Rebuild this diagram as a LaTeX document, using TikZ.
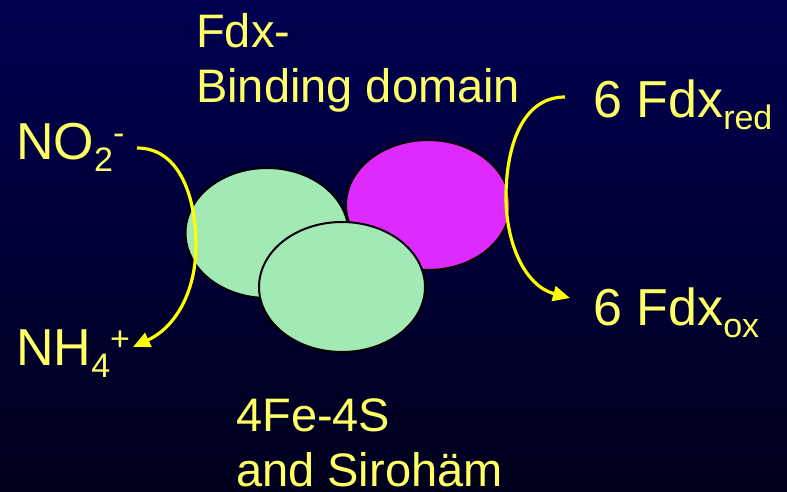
\documentclass[tikz,border=0pt]{standalone}
\usepackage{fontspec}
\setmainfont{Liberation Sans}
\usetikzlibrary{arrows.meta,shapes.geometric}

\definecolor{bgtop}{RGB}{0,0,82}
\definecolor{bgbot}{RGB}{0,0,28}
\definecolor{labelyellow}{RGB}{255,255,102}
\definecolor{flowyellow}{RGB}{255,255,0}
\definecolor{domaingreen}{RGB}{163,233,181}
\definecolor{domainmagenta}{RGB}{222,42,255}

% chemical sub- and superscripts
\newcommand\chemsub[1]{\raisebox{-12pt}{\fontsize{34}{34}\selectfont #1}}
\newcommand\chemsup[1]{\raisebox{15pt}{\fontsize{34}{34}\selectfont #1}}

\begin{document}
\begin{tikzpicture}[x=1pt,y=1pt,
  chem/.style={text=labelyellow, font=\fontsize{52}{62}\selectfont,
    inner sep=0pt, anchor=base west},
  domainlabel/.style={text=labelyellow, font=\fontsize{47}{55}\selectfont,
    inner sep=0pt, align=left, anchor=base west},
  proteindomain/.style={ellipse, draw=black, line width=2pt, inner sep=0pt},
  flow/.style={draw=flowyellow, line width=3.2pt,
    -{Triangle[length=17pt,width=15pt]}}
]
  % background
  \shade[top color=bgtop, bottom color=bgbot] (0,0) rectangle (787,-491);
  \useasboundingbox (0,0) rectangle (787,-491);

  % protein domains
  \node[proteindomain, fill=domaingreen, minimum width=163pt, minimum height=130pt]
    (fesleft) at (267,-233) {};
  \node[proteindomain, fill=domainmagenta, minimum width=164pt, minimum height=130pt]
    (fdxdomain) at (428,-205) {};
  \node[proteindomain, fill=domaingreen, minimum width=166pt, minimum height=130pt]
    (fesfront) at (342,-287) {};

  % labels (anchored at the baseline of their last line)
  \node[domainlabel] (fdxlabel) at (196,-102) {Fdx-\\Binding domain};
  \node[domainlabel] (feslabel) at (236,-486) {4Fe-4S\\and Sirohäm};

  \node[chem] (no2) at (16,-159) {NO\chemsub{2}\chemsup{-}};
  \node[chem] (nh4) at (16,-365) {NH\chemsub{4}\chemsup{+}};
  \node[chem] (fdxred) at (593,-117) {6 Fdx\chemsub{red}};
  \node[chem] (fdxox) at (593,-325) {6 Fdx\chemsub{ox}};

  % electron and substrate flows
  \coordinate (no2out) at (137,-148);
  \coordinate (nh4in) at (133,-347);
  \coordinate (redout) at (565,-97);
  \coordinate (oxin) at (570,-298);

  \draw[flow] (no2out) to[out=0,in=90] (196,-245) to[out=-90,in=25] (nh4in);
  \draw[flow] (redout) to[out=180,in=90] (506,-197) to[out=-90,in=165] (oxin);
\end{tikzpicture}
\end{document}
